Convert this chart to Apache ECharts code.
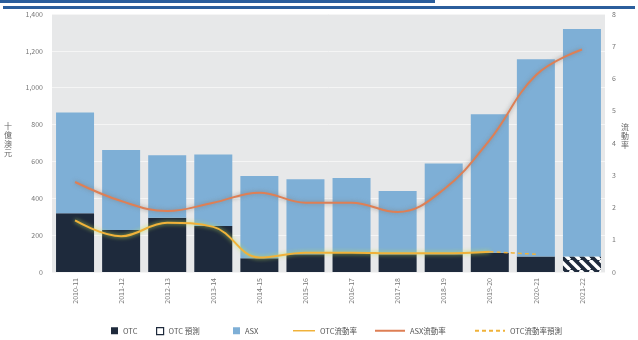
<!DOCTYPE html>
<html>
<head>
<meta charset="utf-8">
<script src="https://cdn.jsdelivr.net/npm/echarts@6/dist/echarts.min.js"></script>
<style>
html,body{margin:0;padding:0;background:#fff;}
#chart{width:638px;height:340px;}
</style>
</head>
<body>
<div id="chart"></div>
<script>
// Fiscal years
const categories = ['2010-11','2011-12','2012-13','2013-14','2014-15','2015-16','2016-17','2017-18','2018-19','2019-20','2020-21','2021-22'];
// Turnover (bars, stacked)
const otcValues = [319, 228, 295, 250, 74, 96, 105, 96, 96, 105, 84, '-'];
const otcForecast = ['-', '-', '-', '-', '-', '-', '-', '-', '-', '-', '-', 84];
const asxValues = [546, 434, 339, 387, 447, 407, 405, 344, 493, 751, 1071, 1234];
// Velocity (lines, right axis)
const otcRate = [1.6, 1.11, 1.53, 1.4, 0.45, 0.6, 0.6, 0.58, 0.58, 0.63, '-', '-'];
const otcRateForecast = ['-', '-', '-', '-', '-', '-', '-', '-', '-', 0.63, 0.55, '-'];
const asxRate = [2.79, 2.2, 1.89, 2.15, 2.46, 2.15, 2.15, 1.86, 2.56, 4.1, 6.1, 6.9];
// Axis ticks
const leftMax = 1400, leftStep = 200;
const rightMax = 8, rightStep = 1;

const FONT = '"Noto Sans CJK TC", "Noto Sans", sans-serif';
const DARK = '#1e2a3c';
const LIGHT = '#7eafd6';
const OTC_LINE = '#f0b23a';
const ASX_LINE = '#de7f55';

// diagonal hatch for the forecast bar
function hatch() {
  const s = 10;
  const c = document.createElement('canvas');
  c.width = s; c.height = s;
  const g = c.getContext('2d');
  g.fillStyle = DARK; g.fillRect(0, 0, s, s);
  g.strokeStyle = '#ffffff'; g.lineWidth = 3.4;
  for (let k = -s; k <= 2 * s; k += s) {
    g.beginPath(); g.moveTo(k, 0); g.lineTo(k + s, s); g.stroke();
  }
  return c;
}

const legendText = {fontSize: 7.5, color: '#555', fontFamily: FONT};
const SOLID_ICON = 'path://M0,0H30V2H0Z';
const DASH_ICON = 'path://M0,0H4V2H0Z M7,0H11V2H7Z M14,0H18V2H14Z M21,0H25V2H21Z M28,0H30V2H28Z';
function squareLegend(left, item) {
  return {left: left, top: 322, itemWidth: 7, itemHeight: 7, textStyle: legendText, data: [item]};
}
function lineLegend(left, name, width, icon) {
  return {left: left, top: 322, itemWidth: width, itemHeight: 2, textStyle: legendText,
          data: [{name: name, icon: icon}]};
}
// stacked upright characters for the axis titles
function verticalText(x, y, str) {
  return str.split('').map((ch, i) => ({
    type: 'text', x: x, y: y + i * 9,
    style: {text: ch, fontSize: 8, fill: '#666', fontFamily: FONT}
  }));
}

const chart = echarts.init(document.getElementById('chart'), null, {renderer: 'canvas'});
chart.setOption({
  animation: false,
  textStyle: {fontFamily: FONT},
  graphic: [
    {type: 'rect', shape: {x: 0, y: 0, width: 435, height: 3}, style: {fill: '#2b5e9c'}},
    {type: 'rect', shape: {x: 3, y: 6, width: 632, height: 3}, style: {fill: '#2b5e9c'}}
  ].concat(verticalText(4, 122, '十億澳元'), verticalText(621, 123, '流動率')),
  grid: {left: 52, right: 33, top: 14, bottom: 68, show: true, backgroundColor: '#e7e8e9', borderWidth: 0},
  legend: [
    squareLegend(106, {name: 'OTC', icon: 'rect'}),
    squareLegend(151, {name: 'OTC 預測', icon: 'rect', itemStyle: {color: '#fff', borderColor: DARK, borderWidth: 1.2}}),
    squareLegend(228, {name: 'ASX', icon: 'rect'}),
    lineLegend(288, 'OTC流動率', 22, SOLID_ICON),
    lineLegend(370, 'ASX流動率', 30, SOLID_ICON),
    lineLegend(470, 'OTC流動率預測', 30, DASH_ICON)
  ],
  xAxis: {
    type: 'category', data: categories,
    axisLine: {show: false}, axisTick: {show: false},
    axisLabel: {rotate: 90, fontSize: 7, color: '#777', margin: 6}
  },
  yAxis: [
    {
      type: 'value', min: 0, max: leftMax, interval: leftStep,
      axisLine: {show: false}, axisTick: {show: false},
      axisLabel: {fontSize: 7, color: '#777', margin: 9, formatter: v => v.toLocaleString('en-US')},
      splitLine: {lineStyle: {color: '#f5f5f5', width: 1}}
    },
    {
      type: 'value', min: 0, max: rightMax, interval: rightStep,
      axisLine: {show: false}, axisTick: {show: false},
      axisLabel: {fontSize: 7, color: '#777', margin: 7},
      splitLine: {show: false}
    }
  ],
  series: [
    {name: 'OTC', type: 'bar', stack: 't', barWidth: 38, data: otcValues, itemStyle: {color: DARK}},
    {name: 'OTC 預測', type: 'bar', stack: 't', barWidth: 38, data: otcForecast, itemStyle: {color: {image: hatch(), repeat: 'repeat'}}},
    {name: 'ASX', type: 'bar', stack: 't', barWidth: 38, data: asxValues, itemStyle: {color: LIGHT}},
    {
      name: 'OTC流動率', type: 'line', yAxisIndex: 1, data: otcRate, smooth: 0.4, symbol: 'none',
      itemStyle: {color: OTC_LINE},
      lineStyle: {color: OTC_LINE, width: 2, shadowColor: 'rgba(190,225,90,0.9)', shadowBlur: 4}
    },
    {
      name: 'ASX流動率', type: 'line', yAxisIndex: 1, data: asxRate, smooth: 0.4, symbol: 'none',
      itemStyle: {color: ASX_LINE},
      lineStyle: {color: ASX_LINE, width: 2, shadowColor: 'rgba(130,130,130,0.8)', shadowBlur: 4}
    },
    {
      name: 'OTC流動率預測', type: 'line', yAxisIndex: 1, data: otcRateForecast, smooth: 0.4, symbol: 'none',
      itemStyle: {color: OTC_LINE},
      lineStyle: {color: OTC_LINE, width: 1.5, type: [4, 3]}
    }
  ]
});
</script>
</body>
</html>
